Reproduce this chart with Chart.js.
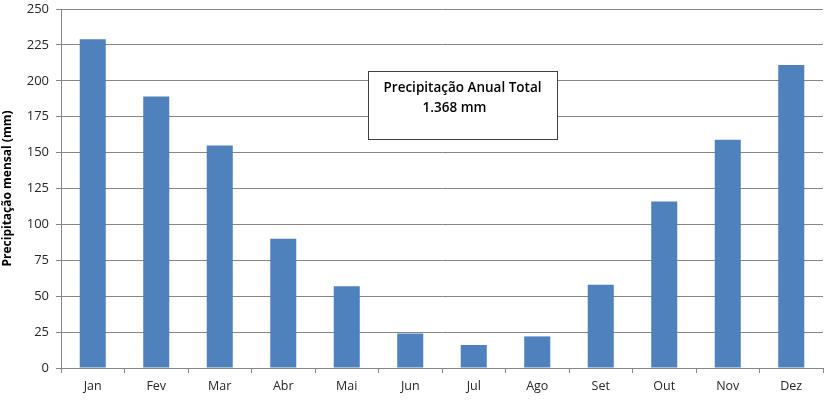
<!DOCTYPE html>
<html>
<head>
<meta charset="utf-8">
<script src="https://cdn.jsdelivr.net/npm/chart.js@4"></script>
<style>
  html, body { margin: 0; padding: 0; background: #fff; }
  #wrap { width: 829px; height: 402px; position: relative; }
</style>
</head>
<body>
<div id="wrap"><canvas id="chuva"></canvas></div>
<script>
var meses = ["Jan", "Fev", "Mar", "Abr", "Mai", "Jun", "Jul", "Ago", "Set", "Out", "Nov", "Dez"];
var precipitacao = [229, 189, 155, 90, 57, 24, 16, 22, 58, 116, 159, 211];
var eixoY = { min: 0, max: 250, step: 25 };
var caixaTexto = ["Precipitação Anual Total", "1.368 mm"];

var FONTE = "'Open Sans', 'Liberation Sans', sans-serif";
var CINZA = "#868686";

// caixa de texto no meio do grafico
var caixaPlugin = {
  id: "caixa",
  afterDraw: function (chart) {
    var ctx = chart.ctx;
    var x = 368, y = 71, w = 189, h = 68;
    ctx.save();
    ctx.fillStyle = "#fff";
    ctx.fillRect(x, y, w, h);
    ctx.strokeStyle = "#404040";
    ctx.lineWidth = 1;
    ctx.strokeRect(x + 0.5, y + 0.5, w, h);
    ctx.fillStyle = "#000";
    ctx.font = "600 13.5px " + FONTE;
    ctx.textAlign = "center";
    ctx.textBaseline = "middle";
    ctx.fillText(caixaTexto[0], x + w / 2, y + 17);
    ctx.fillText(caixaTexto[1], x + w / 2 - 8, y + 37);
    ctx.restore();
  }
};

new Chart(document.getElementById("chuva").getContext("2d"), {
  type: "bar",
  data: {
    labels: meses,
    datasets: [
      {
        data: precipitacao,
        backgroundColor: "#4F81BD",
        borderWidth: 0,
        barPercentage: 0.41,
        categoryPercentage: 1,
      },
    ],
  },
  options: {
    responsive: true,
    maintainAspectRatio: false,
    animation: false,
    layout: { padding: { top: 9, right: 6, left: 0, bottom: 0 } },
    plugins: {
      legend: { display: false },
      tooltip: { enabled: false },
    },
    scales: {
      x: {
        offset: true,
        afterFit: function (s) { s.height = 34; s.paddingLeft = 0; s.paddingRight = 0; },
        grid: {
          offset: true,
          drawOnChartArea: false,
          drawTicks: true,
          tickLength: 5,
          color: CINZA,
        },
        border: { color: CINZA },
        ticks: { color: "#262626", font: { family: FONTE, size: 12.5 }, padding: 6 },
      },
      y: {
        min: eixoY.min,
        max: eixoY.max,
        afterFit: function (s) { s.width = 61; s.paddingTop = 0; s.paddingBottom = 0; },
        ticks: {
          stepSize: eixoY.step,
          color: "#262626",
          font: { family: FONTE, size: 13 },
          padding: 7,
        },
        grid: { color: CINZA, tickLength: 5 },
        border: { color: CINZA },
        title: {
          display: true,
          text: "Precipitação mensal (mm)",
          color: "#000",
          font: { family: FONTE, size: 12, weight: "bold" },
          padding: 0,
        },
      },
    },
  },
  plugins: [caixaPlugin],
});
</script>
</body>
</html>
